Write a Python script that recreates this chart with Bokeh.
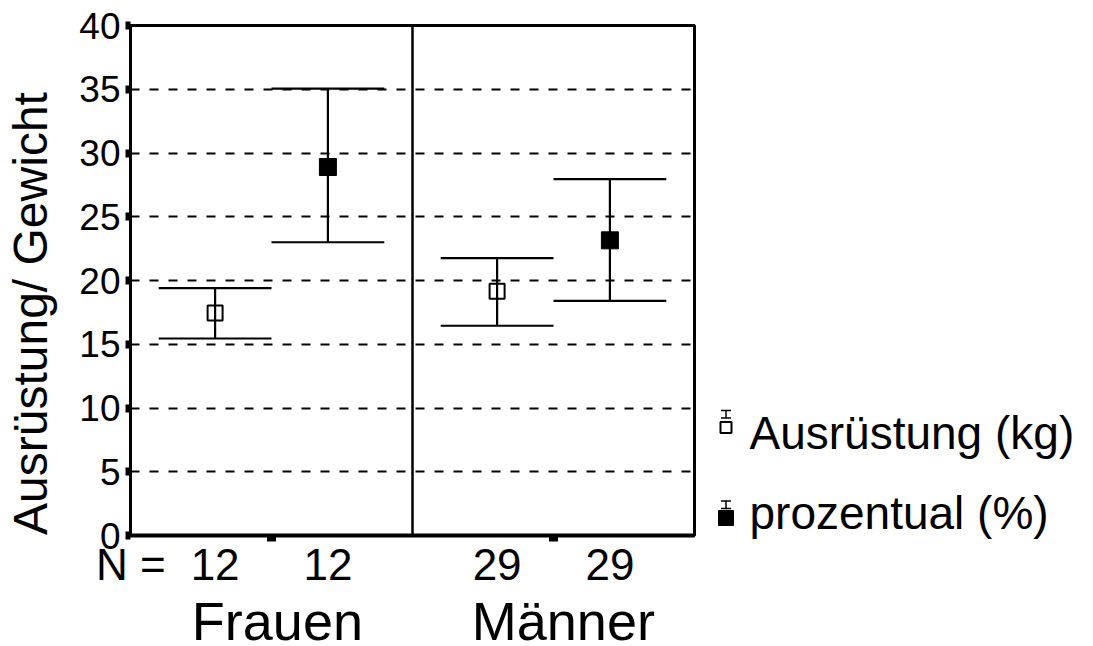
import json
from bokeh.plotting import figure
from bokeh.models import Range1d, FixedTicker, Span, LinearAxis, CustomJSTickFormatter
from bokeh.layouts import row, column
from bokeh.embed import file_html
from bokeh.resources import INLINE
from bokeh.core.properties import value

# ---------------- data ----------------
groups = ["Frauen", "Männer"]
series = ["Ausrüstung (kg)", "prozentual (%)"]
group_index = [0, 0, 1, 1]
series_index = [0, 1, 0, 1]
n_values = [12, 12, 29, 29]
mean_values = [17.45, 28.9, 19.15, 23.15]
upper_values = [19.4, 35.05, 21.75, 27.95]
lower_values = [15.45, 23.0, 16.45, 18.4]
y_ticks = [0, 5, 10, 15, 20, 25, 30, 35, 40]
y_title = "Ausrüstung/ Gewicht"
n_prefix = "N ="

# ---------------- style / layout ----------------
FONT = "Liberation Sans"
offsets = [0.3, 0.7]
cap_half = 0.2
W_MAIN, W_LEG, H = 700, 393, 646
BORDER_L, BORDER_R, BORDER_T, BORDER_B = 130, 6, 25, 58
H_MAIN = 25 + 510 + BORDER_B
X0, X1 = 0, 2
unit_px = (W_MAIN - BORDER_L - BORDER_R) / (X1 - X0)

xs = [g + offsets[s] for g, s in zip(group_index, series_index)]


def no_align(fig):
    try:
        fig.frame_align = False
    except Exception:
        pass


p = figure(width=W_MAIN, height=H_MAIN, x_range=Range1d(X0, X1), y_range=Range1d(0, 40),
           output_backend="svg", toolbar_location=None, title=None,
           min_border_left=BORDER_L, min_border_right=BORDER_R, min_border_top=BORDER_T,
           min_border_bottom=BORDER_B)
no_align(p)
p.background_fill_color = "white"
p.border_fill_color = "white"
p.outline_line_color = "black"
p.outline_line_width = 3

# y axis
p.yaxis.ticker = FixedTicker(ticks=y_ticks)
p.yaxis.axis_line_width = 3
p.yaxis.axis_line_color = "black"
p.yaxis.major_tick_out = 5
p.yaxis.major_tick_in = 0
p.yaxis.major_tick_line_width = 8
p.yaxis.minor_tick_line_color = None
p.yaxis.major_label_text_font = FONT
p.yaxis.major_label_text_font_size = "37px"
p.yaxis.major_label_text_color = "black"
p.yaxis.major_label_standoff = 5

# y title as an outer axis with a single tick
title_pos = 17.41
title_axis = LinearAxis(ticker=FixedTicker(ticks=[title_pos]),
                        formatter=CustomJSTickFormatter(code="return " + json.dumps(y_title) + ";"),
                        axis_line_color=None, major_tick_line_color=None, minor_tick_line_color=None,
                        major_tick_out=0, major_tick_in=0, major_label_orientation="parallel",
                        major_label_standoff=19, major_label_text_font=FONT,
                        major_label_text_font_size="48px", major_label_text_color="black")
p.add_layout(title_axis, "left")

# x axis: N counts as labels, group-centre marks as minor ticks
n_pos = [0.001] + xs
n_txt = [n_prefix] + [str(v) for v in n_values]
p.xaxis.ticker = FixedTicker(ticks=n_pos, minor_ticks=[g + 0.5 for g in range(len(groups))])
p.xaxis.formatter = CustomJSTickFormatter(
    args=dict(pos=n_pos, txt=n_txt),
    code="for (let i = 0; i < pos.length; i++) { if (Math.abs(pos[i] - tick) < 1e-6) return txt[i]; } return '';")
p.xaxis.major_label_text_font = FONT
p.xaxis.major_label_text_font_size = "44px"
p.xaxis.major_label_text_color = "black"
p.xaxis.major_label_standoff = -2
p.xaxis.axis_line_width = 4
p.xaxis.axis_line_color = "black"
p.xaxis.major_tick_line_color = None
p.xaxis.major_tick_out = 0
p.xaxis.major_tick_in = 0
p.xaxis.minor_tick_line_color = "black"
p.xaxis.minor_tick_out = 6
p.xaxis.minor_tick_in = 0
p.xaxis.minor_tick_line_width = 9

# grid
p.xgrid.visible = False
p.ygrid.ticker = FixedTicker(ticks=y_ticks[1:-1])
p.ygrid.grid_line_color = "black"
p.ygrid.grid_line_width = 2
p.ygrid.grid_line_dash = "9 10"

# group divider
p.add_layout(Span(location=1, dimension="height", line_color="black", line_width=2.5))

# error bars
p.segment(x0=xs, y0=lower_values, x1=xs, y1=upper_values, line_color="black", line_width=2.2)
p.segment(x0=[x - cap_half for x in xs], y0=upper_values, x1=[x + cap_half for x in xs], y1=upper_values,
          line_color="black", line_width=2.2)
p.segment(x0=[x - cap_half for x in xs], y0=lower_values, x1=[x + cap_half for x in xs], y1=lower_values,
          line_color="black", line_width=2.2)

# means
x_open = [x for x, s in zip(xs, series_index) if s == 0]
y_open = [m for m, s in zip(mean_values, series_index) if s == 0]
x_fill = [x for x, s in zip(xs, series_index) if s == 1]
y_fill = [m for m, s in zip(mean_values, series_index) if s == 1]
p.scatter(x=x_open, y=y_open, marker="square", size=15, fill_color=None, line_color="black", line_width=2)
p.scatter(x=x_fill, y=y_fill, marker="square", size=17, fill_color="black", line_color="black", line_width=1)

# ---------------- bottom strip: group names ----------------
bottom = figure(width=W_MAIN, height=H - H_MAIN,
                x_range=Range1d(X0 - BORDER_L / unit_px, X1 + BORDER_R / unit_px),
                y_range=Range1d(H, H_MAIN), output_backend="svg", toolbar_location=None, title=None,
                x_axis_location=None, y_axis_location=None, min_border=0)
no_align(bottom)
bottom.grid.visible = False
bottom.outline_line_color = None
bottom.background_fill_color = "white"
bottom.border_fill_color = "white"

group_size = 54
group_mid = 642 - 0.40 * group_size
group_x = [0.521, 1.535]
bottom.text(x=group_x, y=[group_mid] * len(groups), text=groups, text_font=value(FONT),
            text_font_size=f"{group_size}px", text_align="center", text_baseline="middle", text_color="black")

# ---------------- legend panel ----------------
leg = figure(width=W_LEG, height=H, x_range=Range1d(W_MAIN, W_MAIN + W_LEG), y_range=Range1d(H, 0),
             output_backend="svg", toolbar_location=None, title=None,
             x_axis_location=None, y_axis_location=None, min_border=0)
no_align(leg)
leg.grid.visible = False
leg.outline_line_color = None
leg.background_fill_color = "white"
leg.border_fill_color = "white"

icon_x = 725.5
icon_y = [427, 517.5]
leg_size = 46
text_mid = [451 - 0.40 * leg_size, 531 - 0.40 * leg_size]
text_x = 749
leg.segment(x0=[icon_x] * 2, y0=[y - 17 for y in icon_y], x1=[icon_x] * 2, y1=[y - 9.5 for y in icon_y],
            line_color="black", line_width=1.5)
for dy in (-17, -9.5):
    leg.segment(x0=[icon_x - 5] * 2, y0=[y + dy for y in icon_y], x1=[icon_x + 5] * 2,
                y1=[y + dy for y in icon_y], line_color="black", line_width=1.5)
leg.scatter(x=[icon_x], y=[icon_y[0]], marker="square", size=11, fill_color=None, line_color="black", line_width=2)
leg.scatter(x=[icon_x], y=[icon_y[1]], marker="square", size=15, fill_color="black", line_color="black", line_width=1)
leg.text(x=[text_x] * 2, y=text_mid, text=series, text_font=value(FONT), text_font_size=f"{leg_size}px",
         text_align="left", text_baseline="middle", text_color="black")

layout = row(column(p, bottom), leg)
open("out.html", "w").write(file_html(layout, INLINE))
